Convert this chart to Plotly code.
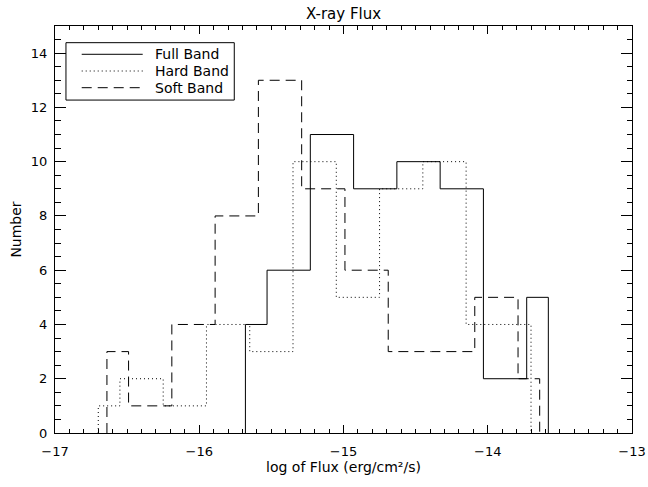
import plotly.graph_objects as go

# ---- data ----
full_edges = [-15.68, -15.53, -15.23, -14.93, -14.63, -14.33, -14.03, -13.73, -13.58]
full_counts = [4, 6, 11, 9, 10, 9, 2, 5]

hard_edges = [-16.70, -16.55, -16.25, -15.95, -15.65, -15.35, -15.05, -14.75,
              -14.45, -14.15, -13.85, -13.70]
hard_counts = [1, 2, 1, 4, 3, 10, 5, 9, 10, 4, 4]

soft_edges = [-16.64, -16.49, -16.19, -15.89, -15.59, -15.29, -14.99, -14.69,
              -14.39, -14.09, -13.79, -13.64]
soft_counts = [3, 1, 4, 8, 13, 9, 6, 3, 3, 5, 2]

series_names = ["Full Band", "Hard Band", "Soft Band"]
series_dash = ["solid", "1px,3px", "10px,6px"]

x_tick_vals = [-17, -16, -15, -14, -13]
x_tick_text = ["\u221217", "\u221216", "\u221215", "\u221214", "\u221213"]
y_tick_vals = [0, 2, 4, 6, 8, 10, 12, 14]
y_tick_text = ["0", "2", "4", "6", "8", "10", "12", "14"]

FONT = "DejaVu Sans"

fig = go.Figure()

for name, edges, counts, dash in zip(series_names,
                                     [full_edges, hard_edges, soft_edges],
                                     [full_counts, hard_counts, soft_counts],
                                     series_dash):
    xs = [edges[0]] + list(edges)
    ys = [0] + list(counts) + [0]
    fig.add_trace(go.Scatter(x=xs, y=ys, mode="lines", name=name,
                             line=dict(shape="hv", color="black", width=1, dash=dash),
                             showlegend=False, hoverinfo="skip"))

# ---- manual legend box (IDL style) ----
lg_x0, lg_x1, lg_y0, lg_y1 = 0.019, 0.3107, 0.818, 0.959
row_y = [0.9305, 0.8894, 0.8484]
fig.add_shape(type="rect", xref="paper", yref="paper", x0=lg_x0, x1=lg_x1,
              y0=lg_y0, y1=lg_y1, line=dict(color="black", width=1),
              fillcolor="white")
for name, dash, ry in zip(series_names, series_dash, row_y):
    fig.add_shape(type="line", xref="paper", yref="paper", x0=0.0463, x1=0.152,
                  y0=ry, y1=ry, line=dict(color="black", width=1, dash=dash))
    fig.add_annotation(xref="paper", yref="paper", x=0.1704, y=ry, text=name,
                       showarrow=False, xanchor="left", yanchor="middle",
                       font=dict(family=FONT, size=14, color="black"))

axis_common = dict(showline=True, linecolor="black", linewidth=1, mirror="ticks",
                   ticks="inside", tickcolor="black", tickwidth=1,
                   showgrid=False, zeroline=False, automargin=False,
                   tickfont=dict(family=FONT, size=13, color="black"))

fig.update_xaxes(range=[-17, -13], tickmode="array", tickvals=x_tick_vals,
                 ticktext=x_tick_text, ticklen=8,
                 minor=dict(dtick=0.1, ticklen=4, ticks="inside", tickcolor="black",
                            showgrid=False),
                 title=dict(text="log of Flux (erg/cm\u00b2/s)",
                            font=dict(family=FONT, size=14, color="black"), standoff=4),
                 ticklabelstandoff=6,
                 **axis_common)
fig.update_yaxes(range=[0, 15], tickmode="array", tickvals=y_tick_vals,
                 ticktext=y_tick_text, ticklen=11,
                 minor=dict(dtick=0.5, ticklen=5.5, ticks="inside", tickcolor="black",
                            showgrid=False),
                 title=dict(text="Number",
                            font=dict(family=FONT, size=14, color="black"), standoff=5),
                 ticklabelstandoff=4,
                 **axis_common)

fig.update_layout(
    width=648, height=487,
    margin=dict(l=55, r=16, t=26, b=54, pad=0),
    paper_bgcolor="white", plot_bgcolor="white",
    title=dict(text="X-ray Flux", x=0.5, xref="paper", y=1 - 14 / 487,
               yref="container", xanchor="center", yanchor="middle",
               font=dict(family=FONT, size=15, color="black")),
    showlegend=False,
    hovermode=False,
)

fig.write_html("out.html",
               config={"displayModeBar": False, "staticPlot": True},
               post_script="document.body.style.margin='0';document.body.style.padding='0';")
